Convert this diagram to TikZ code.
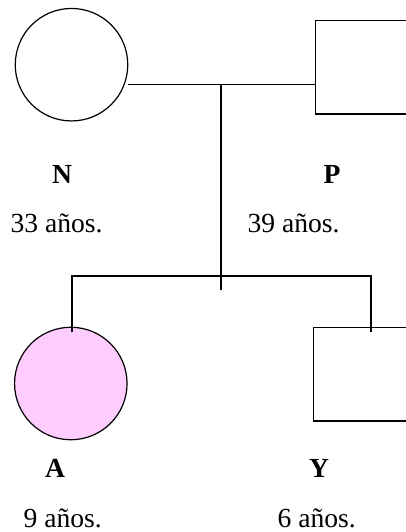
\documentclass[tikz,border=0pt]{standalone}
\usepackage{fontspec}
\setmainfont{Liberation Serif}
\definecolor{pinkfill}{RGB}{255,204,255}
\begin{document}
\begin{tikzpicture}[x=1pt,y=-1pt,
  line width=1.2pt,
  fem/.style={draw,circle,minimum size=112.5pt,inner sep=0pt},
  mal/.style={draw,rectangle,minimum size=93.5pt,inner sep=0pt},
  lbl/.style={inner sep=0pt,anchor=base,font=\fontsize{27.6}{30}\selectfont\bfseries},
  age/.style={inner sep=0pt,anchor=base west,font=\fontsize{27.6}{30}\selectfont},
  ]
\useasboundingbox (0,0) rectangle (406,532);
\begin{scope}
\clip (0,0) rectangle (406,532);
\node[fem] (N) at (71.5,64.7) {};
\node[mal] (P) at (362,67.3) {};
\node[fem,fill=pinkfill] (A) at (70.8,383.5) {};
\node[mal] (Y) at (360,374.2) {};
\coordinate (m) at (221,84.3);
\coordinate (t) at (221,290);
\coordinate (sl) at (72,276);
\coordinate (sr) at (371,276);
\coordinate (al) at (72,332);
\coordinate (yr) at (371,332);
\draw (N.east |- m) -- (m) -- (P.west |- m);
\draw (m) -- (t);
\draw (al) -- (sl) -- (sr) -- (yr);
\end{scope}
\node[lbl] (nN) at (62,183) {N};
\node[lbl] (nP) at (332,183) {P};
\node[age] (aN) at (10,232) {33 años.};
\node[age] (aP) at (247,232) {39 años.};
\node[lbl] (nA) at (55,477.5) {A};
\node[lbl] (nY) at (319,477.5) {Y};
\node[age] (aA) at (23,527.5) {9 años.};
\node[age] (aY) at (277,527.5) {6 años.};
\end{tikzpicture}
\end{document}
